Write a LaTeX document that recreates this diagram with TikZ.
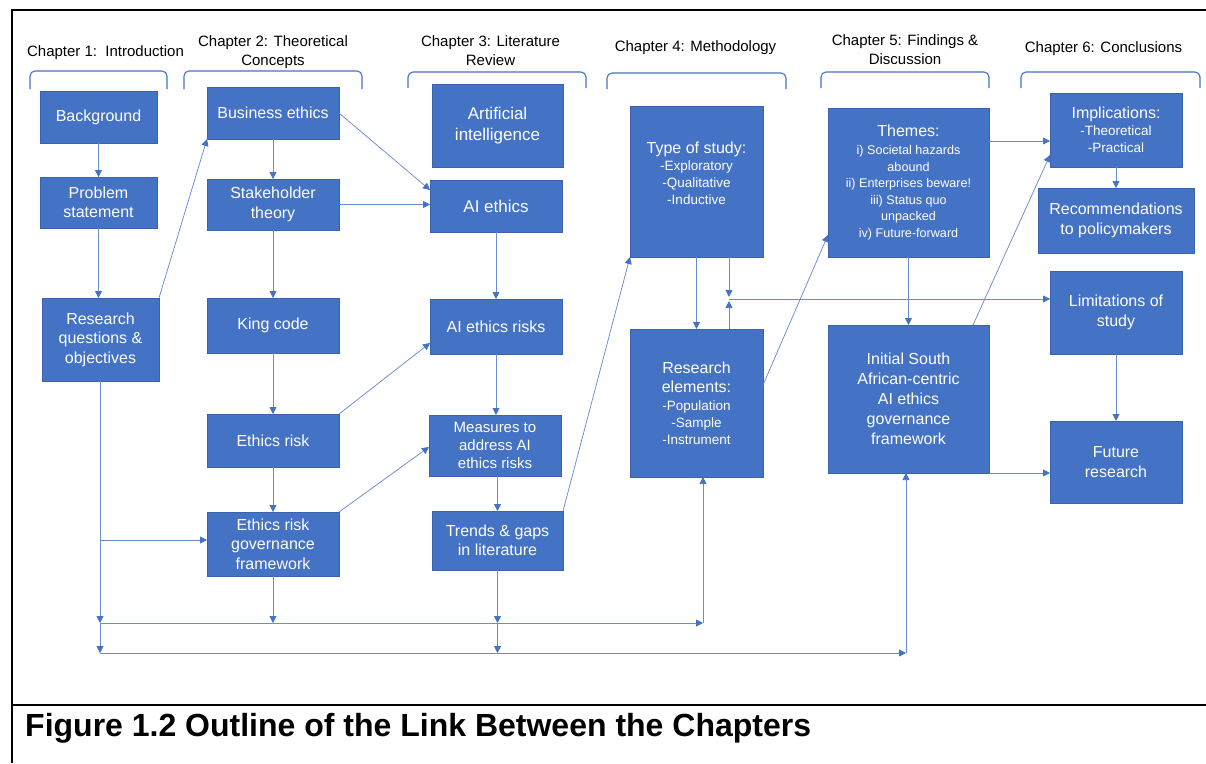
\documentclass[tikz,border=0pt]{standalone}
\usepackage{fontspec}
\setmainfont{Liberation Sans}
\usetikzlibrary{arrows.meta,calc}
\definecolor{boxblue}{HTML}{4472C4}
\definecolor{boxedge}{HTML}{3A62AD}
\definecolor{linkblue}{HTML}{6A8CD0}
\newcommand\subsz{\fontsize{13.5}{16.8}\selectfont}
\newcommand\thsz{\fontsize{12.6}{16.5}\selectfont}
\begin{document}
\begin{tikzpicture}[x=1pt,y=-1pt,
  box/.style={fill=boxblue, draw=boxedge, line width=0.7pt, text=white, align=center,
    inner sep=0pt, outer sep=0pt, font=\fontsize{16}{19.5}\selectfont},
  boxtext/.style={text=white, align=center, inner sep=0pt, font=\fontsize{16}{19.5}\selectfont},
  link/.style={draw=linkblue, line width=0.75pt},
  arr/.style={link, -{Triangle[length=7pt,width=7pt,color=boxblue]}},
  brace/.style={draw=boxblue, line width=1.1pt, rounded corners=5pt},
  chap/.style={font=\fontsize{15}{19}\selectfont, align=center, inner sep=0pt},
]
% page and frame
\fill[white] (0,0) rectangle (1206,763);
\useasboundingbox (0,0) rectangle (1206,763);
\draw[line width=2.2pt] (12,763) -- (12,10) -- (1206,10);
\draw[line width=2.2pt] (12,705) -- (1206,705);

% chapter headings
\node[chap] (c1) at (105.5,53) {Chapter 1:\ \ Introduction};
\node[chap] (c2) at (273,52.5) {Chapter 2: Theoretical\\Concepts};
\node[chap] (c3) at (490.5,50.5) {Chapter 3: Literature\\Review};
\node[chap] (c4) at (695.5,47.5) {Chapter 4: Methodology};
\node[chap] (c5) at (905,50) {Chapter 5: Findings \&\\Discussion};
\node[chap] (c6) at (1103.5,49) {Chapter 6: Conclusions};

% brackets under the headings
\draw[brace] (30,89) -- (30,71) -- (167,71) -- (167,89);
\draw[brace] (184,89) -- (184,71) -- (362,71) -- (362,89);
\draw[brace] (408,88) -- (408,72) -- (586,72) -- (586,88);
\draw[brace] (607,89) -- (607,73) -- (786,73) -- (786,89);
\draw[brace] (821,88) -- (821,72) -- (989,72) -- (989,88);
\draw[brace] (1021,88) -- (1021,72) -- (1200,72) -- (1200,88);

% chapter 1
\node[box, minimum width=117pt, minimum height=52pt] (bg) at (98.5,117) {Background};
\node[box, minimum width=117pt, minimum height=51pt] (ps) at (98.5,202.5) {Problem\\statement};
\node[box, minimum width=117pt, minimum height=83pt] (rq) at (100.5,339.5) {Research\\questions \&\\objectives};

% chapter 2
\node[box, minimum width=132pt, minimum height=52pt] (be) at (273,113) {Business ethics};
\node[box, minimum width=132pt, minimum height=51pt] (st) at (273,204.5) {Stakeholder\\theory};
\node[box, minimum width=132pt, minimum height=55pt] (kc) at (273,325.5) {King code};
\node[box, minimum width=132pt, minimum height=53pt] (er) at (273,440.5) {Ethics risk};
\node[box, minimum width=132pt, minimum height=64pt] (ergf) at (273,544) {Ethics risk\\governance\\framework};

% chapter 3
\node[box, minimum width=131pt, minimum height=83pt, font=\fontsize{17}{21}\selectfont] (ai) at (497.5,125.5) {Artificial\\intelligence};
\node[box, minimum width=132pt, minimum height=52pt, font=\fontsize{17}{21}\selectfont] (aie) at (496,206) {AI ethics};
\node[box, minimum width=132pt, minimum height=55pt] (aier) at (496,326.5) {AI ethics risks};
\node[box, minimum width=132pt, minimum height=61pt, font=\fontsize{15}{18.3}\selectfont] (mea) at (495,445.5) {Measures to\\address AI\\ethics risks};
\node[box, minimum width=131pt, minimum height=59pt] (tr) at (497.5,540.5) {Trends \& gaps\\in literature};

% chapter 4
\node[box, minimum width=133pt, minimum height=151pt] (ts) at (696.5,181.5) {};
\node[boxtext] (tst) at (696.5,173) {Type of study:\\[-2.5pt]\subsz -Exploratory\\[-2.7pt]\subsz -Qualitative\\[-2.7pt]\subsz -Inductive};
\node[box, minimum width=133pt, minimum height=148pt] (re) at (696.5,403) {Research\\elements:\\[-2pt]\subsz -Population\\[-2.7pt]\subsz -Sample\\[-2.7pt]\subsz -Instrument};

% chapter 5
\node[box, minimum width=161pt, minimum height=149pt] (th) at (908.5,182.5) {Themes:\\[-1pt]\thsz i) Societal hazards\\[-3pt]\thsz abound\\[-3pt]\thsz ii) Enterprises beware!\\[-3pt]\thsz iii) Status quo\\[-3pt]\thsz unpacked\\[-3pt]\thsz iv) Future-forward};
\node[box, minimum width=161pt, minimum height=148pt, font=\fontsize{16}{20}\selectfont] (isa) at (908.5,399) {Initial South\\African-centric\\AI ethics\\governance\\framework};

% chapter 6
\node[box, minimum width=132pt, minimum height=74pt] (imp) at (1116,130) {Implications:\\[-2.5pt]\subsz -Theoretical\\[-2.7pt]\subsz -Practical};
\node[box, minimum width=156pt, minimum height=65pt] (rec) at (1116,220.5) {Recommendations\\to policymakers};
\node[box, minimum width=132pt, minimum height=83pt] (lim) at (1116,312.5) {Limitations of\\study};
\node[box, minimum width=132pt, minimum height=82pt] (fr) at (1116,462) {Future\\research};

% bus junctions along the bottom
\coordinate (b1) at (100,623);
\coordinate (b2) at (100,653);
\coordinate (e1) at (703,623);
\coordinate (e2) at (906,653);
\coordinate (t1) at (tr.south |- b1);
\coordinate (j) at (729,299);

% chapter 1 links
\draw[arr] (bg) -- (ps);
\draw[arr] (ps.south) -- (ps.south |- rq.north);
\draw[arr] (rq.north east) -- (be.south west);
\draw[arr] (rq.south -| b1) -- (b1);
\draw[arr] (b1) -- (b2);
\draw[arr] (b1 |- 0,540) -- (ergf.west |- 0,540);

% chapter 2 links
\draw[arr] (be) -- (st);
\draw[arr] (st) -- (kc);
\draw[arr] (kc) -- (er);
\draw[arr] (er) -- (ergf);
\draw[arr] (ergf.south) -- (ergf.south |- b1);
\draw[arr] (be.east) -- (aie.west |- 0,190);
\draw[arr] (st.east) -- (aie.west |- st.east);
\draw[arr] (er.north east) -- (aier.west |- 0,343);
\draw[arr] (ergf.north east) -- (mea.west |- 0,447);

% chapter 3 links
\draw[arr] (aie) -- (aier);
\draw[arr] (aier.south) -- (aier.south |- mea.north);
\draw[arr] (tr.north |- mea.south) -- (tr.north);
\draw[arr] (tr.south) -- (t1);
\draw[arr] (t1) -- (t1 |- b2);
\draw[arr] (tr.north east) -- (ts.south west);

% bottom buses
\draw[arr] (b1) -- (e1);
\draw[arr] (e1) -- (re.south -| e1);
\draw[arr] (b2) -- (e2);
\draw[arr] (e2) -- (isa.south -| e2);

% chapter 4 links
\draw[arr] (ts.south -| 696.5,0) -- (re.north -| 696.5,0);
\draw[arr] (ts.south -| j) -- ([yshift=2pt]j);
\draw[arr] (re.north -| j) -- ([yshift=-2pt]j);
\draw[arr] (j) -- (lim.west |- j);
\draw[arr] (re.east |- 0,385) -- (th.west |- 0,235);

% chapter 5 links
\draw[arr] (th.east |- 0,141) -- (imp.west |- 0,141);
\draw[arr] ([xshift=-16pt]isa.north east) -- (imp.west |- 0,155);
\draw[arr] (th) -- (isa);
\draw[arr] (isa.south east) -- (fr.west |- isa.south east);

% chapter 6 links
\draw[arr] (imp) -- (rec);
\draw[arr] (lim) -- (fr);

% caption
\node[anchor=base west, inner sep=0pt, font=\fontsize{32}{36}\selectfont\bfseries] (cap) at (25,736) {Figure 1.2 Outline of the Link Between the Chapters};
\end{tikzpicture}
\end{document}
